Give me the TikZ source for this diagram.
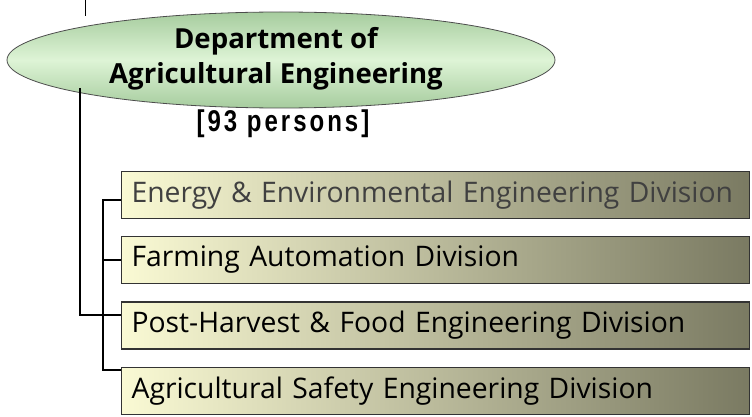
\documentclass[tikz,border=0pt]{standalone}
\usepackage{fontspec}
\setmainfont{Open Sans}
\newfontfamily\narrowfont[FakeStretch=0.8, LetterSpace=10]{Liberation Sans}
\usepackage{tikz}
\usetikzlibrary{shapes.geometric, positioning}
\usepackage{xcolor}
\definecolor{deptGreen}{RGB}{166, 204, 158}
\definecolor{deptLight}{RGB}{222, 244, 214}
\definecolor{divLight}{RGB}{250, 250, 212}
\definecolor{divDark}{RGB}{122, 122, 98}
\definecolor{divText}{RGB}{64, 64, 64}

\begin{document}
\begin{tikzpicture}[
  x=1pt, y=-1pt,
  every node/.style={align=center},
  dept/.style={ellipse, draw=black!70, line width=0.8pt, minimum width=548pt, minimum height=96pt,
    top color=deptGreen, bottom color=deptGreen, middle color=deptLight},
  division/.style={draw=black!80, line width=1.2pt, minimum width=628pt, minimum height=47pt,
    left color=divLight, right color=divDark, anchor=west, text width=608pt, align=left,
    inner xsep=10pt, inner ysep=6pt, font=\fontsize{28.3}{32}\selectfont},
  link/.style={line width=1.6pt},
  bracket/.style={line width=2.4pt},
]
\useasboundingbox (0,0) rectangle (752,417);

% Department node
\node[dept] (dept) at (281,60) {};
\node[font=\fontsize{27.6}{35}\selectfont\bfseries] (deptname) at (276,59)
  {Department of\\Agricultural Engineering};
\node[font=\narrowfont\bfseries\fontsize{30}{32}\selectfont] (count) at (283,124) {[93 persons]};

% Divisions
\node[division, text=divText] (div1) at (121,195) {Energy \& Environmental Engineering Division};
\node[division] (div2) at (121,260) {Farming Automation Division};
\node[division] (div3) at (121,325.5) {Post-Harvest \& Food Engineering Division};
\node[division] (div4) at (121,391) {Agricultural Safety Engineering Division};

% Lines
\coordinate (topin) at (85,0);
\coordinate (topout) at (85,16);
\coordinate (deptout) at (80,88);
\coordinate (turn) at (80,315);
\coordinate (bracktop) at (103,200);
\coordinate (brackbot) at (103,370);
\draw[line width=1pt] (topin) -- (topout);
\draw[link] (deptout) -- (turn) -- (turn -| div3.west);
\draw[bracket] (bracktop -| div1.west) -- (bracktop) -- (brackbot) -- (brackbot -| div4.west);
\draw[bracket] (bracktop |- div2.west) -- (div2.west);

\end{tikzpicture}
\end{document}
